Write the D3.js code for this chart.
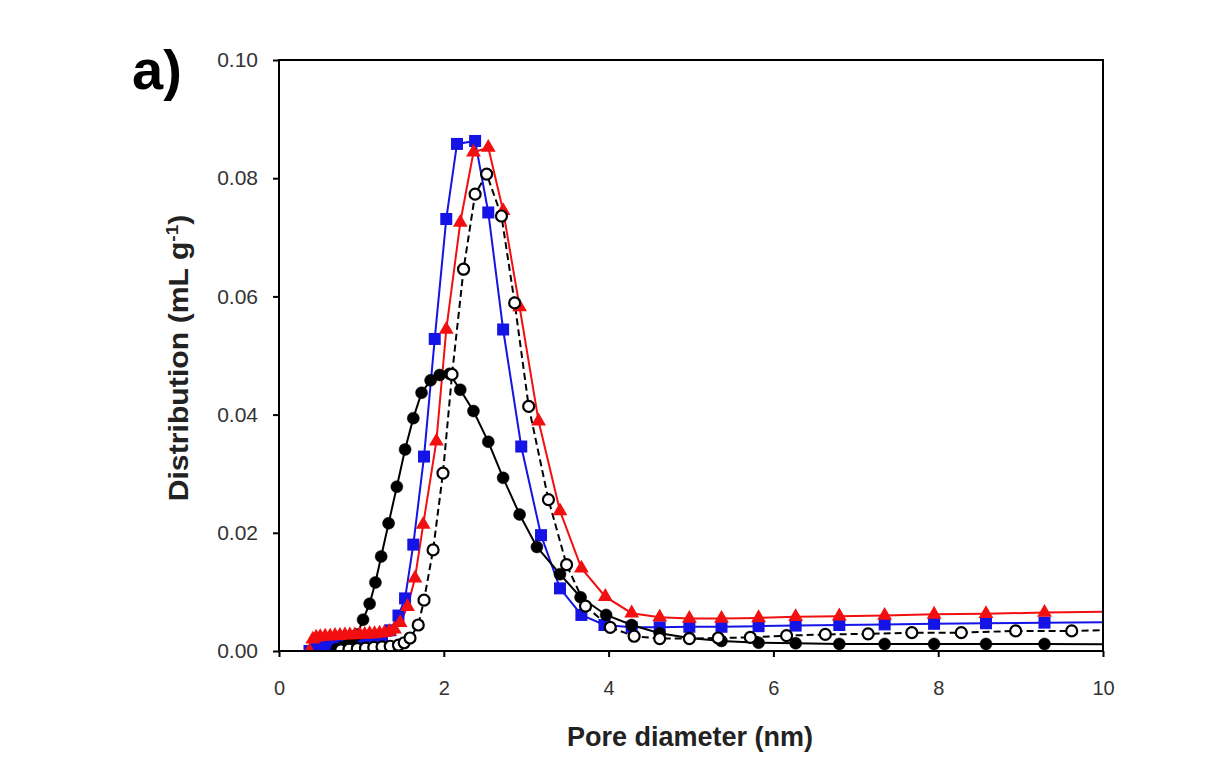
<!DOCTYPE html>
<html>
<head>
<meta charset="utf-8">
<script src="https://cdn.jsdelivr.net/npm/d3@7"></script>
<style>
  html, body { margin: 0; padding: 0; background: #fff; }
  svg { display: block; }
</style>
</head>
<body>
<svg id="chart" width="1223" height="776"></svg>
<script>
// ---- data (pore diameter nm, distribution mL/g) ----
const xTicks = [0, 2, 4, 6, 8, 10];
const yTicks = [0.00, 0.02, 0.04, 0.06, 0.08, 0.10];

const blackX = [0.70,0.76,0.82,0.88,0.95,1.02,1.10,1.17,1.24,1.33,1.43,1.53,1.63,1.73,1.84,1.95,2.07,2.20,2.36,2.54,2.72,2.92,3.13,3.41,3.66,3.97,4.28,4.62,4.98,5.37,5.82,6.27,6.80,7.35,7.95,8.58,9.29,10.2];
const blackY = [0.0003,0.0006,0.0009,0.0015,0.0028,0.0053,0.0080,0.0116,0.0160,0.0216,0.0278,0.0341,0.0394,0.0437,0.0458,0.0467,0.0469,0.0442,0.0406,0.0354,0.0293,0.0231,0.0176,0.0130,0.0091,0.0061,0.0044,0.0030,0.0022,0.0017,0.0014,0.0013,0.0012,0.0012,0.0012,0.0012,0.0012,0.0011];

const blueX = [0.37,0.45,0.55,0.65,0.75,0.85,0.95,1.05,1.15,1.25,1.35,1.45,1.53,1.63,1.76,1.89,2.03,2.16,2.38,2.54,2.72,2.94,3.18,3.41,3.67,3.95,4.28,4.62,4.98,5.37,5.82,6.27,6.80,7.35,7.95,8.58,9.29,10.2];
const blueY = [0.0000,0.0008,0.0010,0.0012,0.0013,0.0014,0.0015,0.0016,0.0018,0.0022,0.0035,0.0060,0.0089,0.0180,0.0329,0.0528,0.0731,0.0858,0.0863,0.0742,0.0544,0.0346,0.0196,0.0106,0.0061,0.0044,0.0040,0.0040,0.0041,0.0041,0.0042,0.0043,0.0044,0.0045,0.0046,0.0047,0.0048,0.0049];

const redX = [0.37,0.41,0.45,0.50,0.56,0.62,0.68,0.74,0.80,0.86,0.92,0.98,1.04,1.10,1.16,1.22,1.28,1.34,1.40,1.47,1.56,1.65,1.75,1.91,2.03,2.20,2.36,2.54,2.72,2.92,3.15,3.41,3.67,3.96,4.28,4.62,4.98,5.37,5.82,6.27,6.80,7.35,7.95,8.58,9.29,10.2];
const redY = [0.0000,0.0020,0.0023,0.0024,0.0025,0.0025,0.0026,0.0026,0.0027,0.0027,0.0027,0.0028,0.0028,0.0029,0.0029,0.0030,0.0031,0.0033,0.0037,0.0048,0.0075,0.0123,0.0214,0.0355,0.0544,0.0725,0.0844,0.0852,0.0745,0.0582,0.0389,0.0237,0.0140,0.0092,0.0064,0.0057,0.0055,0.0055,0.0056,0.0058,0.0059,0.0060,0.0062,0.0063,0.0065,0.0067];

const openX = [0.75,0.85,0.95,1.05,1.15,1.25,1.35,1.45,1.52,1.59,1.69,1.76,1.87,1.99,2.10,2.24,2.38,2.52,2.70,2.86,3.03,3.27,3.49,3.72,4.02,4.31,4.62,4.98,5.33,5.72,6.16,6.63,7.15,7.68,8.28,8.94,9.62,10.3];
const openY = [0.0002,0.0003,0.0004,0.0005,0.0006,0.0007,0.0008,0.0010,0.0014,0.0022,0.0044,0.0086,0.0171,0.0301,0.0468,0.0646,0.0773,0.0807,0.0736,0.0589,0.0414,0.0256,0.0146,0.0076,0.0040,0.0025,0.0021,0.0021,0.0022,0.0023,0.0026,0.0028,0.0029,0.0031,0.0031,0.0034,0.0034,0.0036];

// ---- layout ----
const svg = d3.select("#chart");
const x = d3.scaleLinear().domain([0, 10]).range([279, 1103]);
const y = d3.scaleLinear().domain([0, 0.10]).range([651, 60]);

const defs = svg.append("defs");
defs.append("clipPath").attr("id", "plotclip")
  .append("rect").attr("x", 279).attr("y", 60).attr("width", 824).attr("height", 591);

const plot = svg.append("g").attr("clip-path", "url(#plotclip)");

function series(xs, ys) { return xs.map((d, i) => ({x: d, y: ys[i]})); }
const line = d3.line().x(d => x(d.x)).y(d => y(d.y));

const specs = [
  {data: series(blueX, blueY), color: "#1414e6", dash: null, marker: "square", fill: "#1414e6"},
  {data: series(blackX, blackY), color: "#000", dash: null, marker: "circle", fill: "#000"},
  {data: series(redX, redY), color: "#f20f0f", dash: null, marker: "triangle", fill: "#f20f0f"},
  {data: series(openX, openY), color: "#000", dash: "7,4", marker: "circle", fill: "#fff"}
];

specs.forEach(s => {
  plot.append("path").datum(s.data)
    .attr("d", line)
    .attr("fill", "none")
    .attr("stroke", s.color)
    .attr("stroke-width", 2)
    .attr("stroke-dasharray", s.dash);
});

specs.forEach(s => {
  const g = plot.append("g");
  if (s.marker === "circle") {
    g.selectAll("circle").data(s.data).join("circle")
      .attr("cx", d => x(d.x)).attr("cy", d => y(d.y))
      .attr("r", s.fill === "#fff" ? 5.5 : 6)
      .attr("fill", s.fill)
      .attr("stroke", "#000")
      .attr("stroke-width", s.fill === "#fff" ? 2.2 : 0.5);
  } else if (s.marker === "square") {
    g.selectAll("rect").data(s.data).join("rect")
      .attr("x", d => x(d.x) - 6).attr("y", d => y(d.y) - 6)
      .attr("width", 12).attr("height", 12)
      .attr("fill", s.fill);
  } else {
    const tri = d3.symbol().type(d3.symbolTriangle).size(95);
    g.selectAll("path").data(s.data).join("path")
      .attr("transform", d => `translate(${x(d.x)},${y(d.y)})`)
      .attr("d", tri)
      .attr("fill", s.fill);
  }
});

// ---- frame and axes ----
svg.append("rect").attr("x", 279).attr("y", 60).attr("width", 824).attr("height", 591)
  .attr("fill", "none").attr("stroke", "#000").attr("stroke-width", 2);

const xAxis = svg.append("g").attr("transform", "translate(0,651)")
  .call(d3.axisBottom(x).tickValues(xTicks).tickFormat(d3.format("d")).tickSize(6).tickPadding(24));
const yAxis = svg.append("g").attr("transform", "translate(279,0)")
  .call(d3.axisLeft(y).tickValues(yTicks).tickFormat(d3.format(".2f")).tickSize(6).tickPadding(15));

xAxis.selectAll(".tick text").attr("font-size", 20);
yAxis.selectAll(".tick text").attr("font-size", 21);
[xAxis, yAxis].forEach(a => {
  a.select(".domain").remove();
  a.selectAll(".tick line").attr("stroke", "#000").attr("stroke-width", 2);
  a.selectAll(".tick text")
    .attr("font-family", "'Liberation Sans', Arial, sans-serif")
    .attr("fill", "#333");
});

// ---- titles ----
svg.append("text")
  .attr("x", 690).attr("y", 746)
  .attr("text-anchor", "middle")
  .attr("font-family", "'Liberation Sans', Arial, sans-serif")
  .attr("font-weight", "bold").attr("font-size", 27).attr("fill", "#222")
  .text("Pore diameter (nm)");

const yt = svg.append("text")
  .attr("transform", "translate(188,358) rotate(-90) scale(1.12,1)")
  .attr("text-anchor", "middle")
  .attr("font-family", "'Liberation Sans', Arial, sans-serif")
  .attr("font-weight", "bold").attr("font-size", 27).attr("fill", "#222");
yt.append("tspan").text("Distribution (mL g");
yt.append("tspan").attr("dy", -10).attr("font-size", 17).text("-1");
yt.append("tspan").attr("dy", 10).text(")");

svg.append("text")
  .attr("x", 132).attr("y", 89)
  .attr("font-family", "'Liberation Sans', Arial, sans-serif")
  .attr("font-weight", "bold").attr("font-size", 56).attr("fill", "#000")
  .text("a)");
</script>
</body>
</html>
